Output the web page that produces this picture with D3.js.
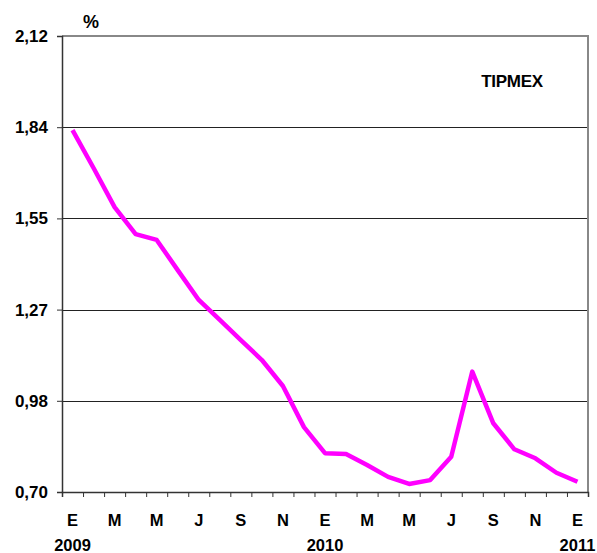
<!DOCTYPE html>
<html>
<head>
<meta charset="utf-8">
<script src="https://cdn.jsdelivr.net/npm/d3@7"></script>
<style>
	body { margin: 0; background: #fff; overflow: hidden; }
	svg { display: block; }
	svg text { font-family: "Liberation Sans", Arial, sans-serif; font-weight: bold; fill: #000; }
</style>
</head>
<body>
<div id="container"></div>
<script>
// months Jan 2009 .. Jan 2011
var months = ["E","F","M","A","M","J","J","A","S","O","N","D",
	"E","F","M","A","M","J","J","A","S","O","N","D","E"];
var years = ["2009", "", "", "", "", "", "", "", "", "", "", "",
	"2010", "", "", "", "", "", "", "", "", "", "", "", "2011"];
// TIPMEX rate, %
var tipmex = [1.827, 1.709, 1.587, 1.503, 1.485, 1.391, 1.298, 1.236, 1.173, 1.111, 1.030, 0.902,
	0.821, 0.818, 0.784, 0.747, 0.725, 0.737, 0.810, 1.075, 0.914, 0.833, 0.805, 0.760, 0.732];
var yTicks = [0.70, 0.984, 1.268, 1.552, 1.836, 2.12];
var yTickLabels = ["0,70", "0,98", "1,27", "1,55", "1,84", "2,12"];

var W = 597, H = 553;
var plotL = 62, plotR = 588, plotT = 36, plotB = 492;

var svg = d3.select("#container").append("svg")
	.attr("width", W)
	.attr("height", H);

var x = d3.scaleBand()
	.domain(d3.range(months.length))
	.range([plotL, plotR]);

var y = d3.scaleLinear()
	.domain([0.70, 2.12])
	.range([plotB, plotT]);

// gridlines
svg.selectAll("line.grid")
	.data(yTicks.slice(1, -1))
	.enter()
	.append("line")
		.attr("class", "grid")
		.attr("x1", plotL)
		.attr("x2", plotR)
		.attr("y1", (d) => Math.round(y(d)) + 0.5)
		.attr("y2", (d) => Math.round(y(d)) + 0.5)
		.attr("stroke", "#222")
		.attr("stroke-width", 1);

// top and right border
svg.append("path")
	.attr("d", "M" + plotL + "," + plotT + "H" + plotR + "V" + plotB)
	.attr("fill", "none")
	.attr("stroke", "#888")
	.attr("stroke-width", 2);

// y axis
var yAxis = d3.axisLeft(y)
	.tickValues(yTicks)
	.tickFormat((d, i) => yTickLabels[i])
	.tickSize(5)
	.tickPadding(9);

var gy = svg.append("g")
	.attr("transform", "translate(" + plotL + ",0)")
	.call(yAxis);
gy.select(".domain").attr("stroke", "#333").attr("stroke-width", 1.5);
gy.selectAll(".tick line").attr("stroke", "#333");
gy.selectAll(".tick text")
	.attr("font-size", 17)
	.attr("font-family", "Liberation Sans, Arial, sans-serif")
	.attr("font-weight", "bold")
	.attr("fill", "#000");

// x axis: ticks at month boundaries
var xb = d3.scaleLinear().domain([0, months.length]).range([plotL, plotR]);
var gx = svg.append("g")
	.attr("transform", "translate(0," + plotB + ")")
	.call(d3.axisBottom(xb).tickValues(d3.range(months.length + 1)).tickSize(5).tickFormat(""));
gx.select(".domain").attr("stroke", "#333").attr("stroke-width", 1.5);
gx.selectAll(".tick line").attr("stroke", "#333");

// month labels, every other month
svg.selectAll("text.month")
	.data(months)
	.enter()
	.filter((d, i) => i % 2 == 0)
	.append("text")
		.attr("class", "month")
		.attr("x", (d, i) => x(i * 2) + x.bandwidth() / 2)
		.attr("y", 526)
		.attr("text-anchor", "middle")
		.attr("font-size", 16.5)
		.text((d) => d);

svg.selectAll("text.year")
	.data(years)
	.enter()
	.append("text")
		.attr("class", "year")
		.attr("x", (d, i) => x(i) + x.bandwidth() / 2)
		.attr("y", 551)
		.attr("text-anchor", "middle")
		.attr("font-size", 16.5)
		.text((d) => d);

// the line
var line = d3.line()
	.x((d, i) => x(i) + x.bandwidth() / 2)
	.y((d) => y(d));

svg.append("path")
	.datum(tipmex)
	.attr("d", line)
	.attr("fill", "none")
	.attr("stroke", "#ff00ff")
	.attr("stroke-width", 4.5)
	.attr("stroke-linejoin", "round");

svg.append("text")
	.attr("x", 91)
	.attr("y", 28)
	.attr("text-anchor", "middle")
	.attr("font-size", 18)
	.text("%");

svg.append("text")
	.attr("x", 512)
	.attr("y", 87)
	.attr("text-anchor", "middle")
	.attr("font-size", 17)
	.attr("letter-spacing", -0.3)
	.text("TIPMEX");
</script>
</body>
</html>
